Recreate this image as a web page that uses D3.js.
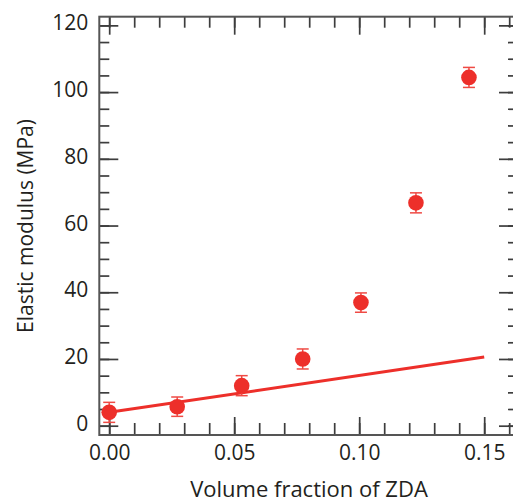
<!DOCTYPE html>
<html>
<head>
<meta charset="utf-8">
<script src="https://cdn.jsdelivr.net/npm/d3@7"></script>
<style>
  html, body { margin: 0; padding: 0; background: #ffffff; }
  svg { display: block; }
</style>
</head>
<body>
<svg id="chart" width="513" height="502"></svg>
<script>
// ---- data ----
const volumeFraction = [0.000, 0.0272, 0.053, 0.0774, 0.1007, 0.1227, 0.1439];
const elasticModulus = [4.0, 5.7, 12.0, 20.0, 36.9, 66.8, 104.4];
const modulusError   = [3.0, 2.9, 3.0, 3.0, 2.9, 3.0, 3.0];
const fitX = [0.0, 0.15];
const fitY = [4.0, 20.6];
const xMajorTicks = [0.00, 0.05, 0.10, 0.15];
const xMinorTicks = [0.00, 0.01, 0.02, 0.03, 0.04, 0.05, 0.06, 0.07, 0.08, 0.09, 0.10, 0.11, 0.12, 0.13, 0.14, 0.15, 0.16];
const yMajorTicks = [0, 20, 40, 60, 80, 100, 120];
const yMinorTicks = [0, 5, 10, 15, 20, 25, 30, 35, 40, 45, 50, 55, 60, 65, 70, 75, 80, 85, 90, 95, 100, 105, 110, 115, 120];
const xTitle = "Volume fraction of ZDA";
const yTitle = "Elastic modulus (MPa)";

// ---- layout ----
const plot = { left: 99.3, right: 518, top: 16.7, bottom: 435 };
const font = "'Open Sans', 'Noto Sans', sans-serif";
const textColor = "#231f20";
const axisColor = "#3d3d3d";
const red = "#ed2f2a";

const x = d3.scaleLinear().domain([-0.00396, 0.16352]).range([plot.left, plot.right]);
const y = d3.scaleLinear().domain([-2.79, 122.6]).range([plot.bottom, plot.top]);

const svg = d3.select("#chart");

function styleAxis(g) {
  g.select(".domain").remove();
  g.selectAll(".tick line").attr("stroke", axisColor).attr("stroke-width", 1.7);
  g.selectAll(".tick text").attr("fill", textColor).attr("font-family", font).attr("font-size", 21);
}

// bottom axis
svg.append("g").attr("transform", `translate(0,${plot.bottom})`)
  .call(d3.axisBottom(x).tickValues(xMinorTicks).tickSize(-12).tickFormat(""))
  .call(styleAxis);
svg.append("g").attr("transform", `translate(0,${plot.bottom})`)
  .call(d3.axisBottom(x).tickValues(xMajorTicks).tickSize(-18).tickPadding(10).tickFormat(d3.format(".2f")))
  .call(styleAxis);
// top axis
svg.append("g").attr("transform", `translate(0,${plot.top})`)
  .call(d3.axisTop(x).tickValues(xMinorTicks).tickSize(-11).tickFormat(""))
  .call(styleAxis);
svg.append("g").attr("transform", `translate(0,${plot.top})`)
  .call(d3.axisTop(x).tickValues(xMajorTicks).tickSize(-18).tickFormat(""))
  .call(styleAxis);
// left axis
svg.append("g").attr("transform", `translate(${plot.left},0)`)
  .call(d3.axisLeft(y).tickValues(yMinorTicks).tickSize(-10).tickFormat(""))
  .call(styleAxis);
svg.append("g").attr("transform", `translate(${plot.left},0)`)
  .call(d3.axisLeft(y).tickValues(yMajorTicks).tickSize(-19).tickPadding(11).tickFormat(d3.format("d")))
  .call(styleAxis)
  .call(g => g.selectAll(".tick text").attr("dy", "0.22em"));
// right axis
svg.append("g").attr("transform", `translate(${plot.right},0)`)
  .call(d3.axisRight(y).tickValues(yMinorTicks).tickSize(-10).tickFormat(""))
  .call(styleAxis);
svg.append("g").attr("transform", `translate(${plot.right},0)`)
  .call(d3.axisRight(y).tickValues(yMajorTicks).tickSize(-19).tickFormat(""))
  .call(styleAxis);

// frame
svg.append("rect")
  .attr("x", plot.left).attr("y", plot.top)
  .attr("width", plot.right - plot.left).attr("height", plot.bottom - plot.top)
  .attr("fill", "none").attr("stroke", "#555555").attr("stroke-width", 2);

// fit line
const fitData = fitX.map((v, i) => [v, fitY[i]]);
svg.append("path")
  .datum(fitData)
  .attr("d", d3.line().x(d => x(d[0])).y(d => y(d[1])))
  .attr("fill", "none").attr("stroke", red).attr("stroke-width", 3);

// data with error bars
const pts = volumeFraction.map((v, i) => ({ x: v, y: elasticModulus[i], e: modulusError[i] }));
const g = svg.append("g").selectAll("g").data(pts).join("g");
g.append("line")
  .attr("x1", d => x(d.x)).attr("x2", d => x(d.x))
  .attr("y1", d => y(d.y + d.e)).attr("y2", d => y(d.y - d.e))
  .attr("stroke", "#ef4a44").attr("stroke-width", 1.5);
[1, -1].forEach(s => {
  g.append("line")
    .attr("x1", d => x(d.x) - 6).attr("x2", d => x(d.x) + 6)
    .attr("y1", d => y(d.y + s * d.e)).attr("y2", d => y(d.y + s * d.e))
    .attr("stroke", "#ef4a44").attr("stroke-width", 1.5);
});
g.append("circle")
  .attr("cx", d => x(d.x)).attr("cy", d => y(d.y)).attr("r", 7.8)
  .attr("fill", red);

// titles
svg.append("text")
  .attr("x", 309).attr("y", 497)
  .attr("text-anchor", "middle")
  .attr("font-family", font).attr("font-size", 22).attr("fill", textColor)
  .text(xTitle);
svg.append("text")
  .attr("transform", `translate(33,${226}) rotate(-90)`)
  .attr("text-anchor", "middle")
  .attr("font-family", font).attr("font-size", 21).attr("fill", textColor)
  .text(yTitle);
</script>
</body>
</html>
